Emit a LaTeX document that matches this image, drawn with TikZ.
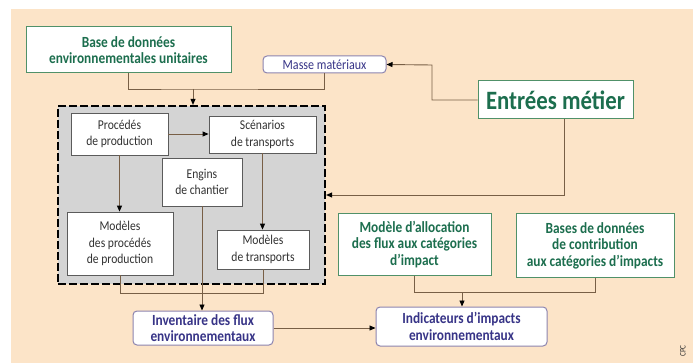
\documentclass[tikz,border=0pt]{standalone}
\usepackage{fontspec}
\setmainfont[FakeStretch=0.86]{Carlito}
\usetikzlibrary{arrows.meta}
\definecolor{peach}{RGB}{252,228,200}
\definecolor{gtext}{RGB}{28,110,78}
\definecolor{gborder}{RGB}{80,145,105}
\definecolor{brownline}{RGB}{120,95,70}
\definecolor{grayfill}{RGB}{212,212,212}
\definecolor{ptext}{RGB}{55,52,135}
\definecolor{pborder}{RGB}{140,132,175}
\definecolor{wtext}{RGB}{50,50,50}
\tikzset{
  gbox/.style={draw=gborder, line width=1pt, fill=white, text=gtext, font=\bfseries\fontsize{15.5}{16.5}\selectfont, align=center, inner sep=0pt},
  pbox/.style={draw=pborder, line width=1pt, rounded corners=4pt, fill=white, text=ptext, align=center, inner sep=0pt},
  wbox/.style={draw=wtext!80, line width=0.8pt, fill=white, text=wtext, font=\fontsize{13.5}{16.7}\selectfont, align=center, inner sep=0pt},
  conn/.style={draw=brownline, line width=0.9pt},
  arr/.style={conn, -{Triangle[length=6pt,width=5pt,color=black]}},
}
\begin{document}
\begin{tikzpicture}[x=1pt,y=-1pt]
\useasboundingbox (0,0) rectangle (698,363);
\fill[peach] (11,9) rectangle (693,363);
% dashed region
\node[draw=black, line width=2.2pt, dash pattern=on 8pt off 3pt, fill=grayfill, minimum width=267pt, minimum height=178pt, inner sep=0pt] (dash) at (191.5,195) {};
% nodes
\node[gbox, minimum width=205pt, minimum height=46pt] (base) at (128.5,50) {Base de données\\environnementales unitaires};
\node[pbox, minimum width=123pt, minimum height=17pt, font=\fontsize{14}{15}\selectfont] (masse) at (324.5,64.5) {Masse matériaux};
\node[gbox, minimum width=155pt, minimum height=38pt, font=\bfseries\fontsize{26.5}{30}\selectfont] (entrees) at (555.5,100) {Entrées métier};
\node[wbox, minimum width=97pt, minimum height=42pt] (proc) at (119.5,134) {Procédés\\de production};
\node[wbox, minimum width=107pt, minimum height=37pt] (scen) at (262.5,134.5) {Scénarios\\de transports};
\node[wbox, minimum width=80pt, minimum height=48pt] (engins) at (202,182) {Engins\\de chantier};
\node[wbox, minimum width=106pt, minimum height=63pt] (modp) at (120,243.5) {Modèles\\des procédés\\de production};
\node[wbox, minimum width=92pt, minimum height=39pt] (modt) at (263,249.5) {Modèles\\de transports};
\node[pbox, minimum width=140pt, minimum height=34pt, font=\bfseries\fontsize{15.5}{16.5}\selectfont] (inv) at (203,328) {Inventaire des flux\\environnementaux};
\node[gbox, minimum width=153pt, minimum height=61pt] (alloc) at (414.5,244.5) {Modèle d’allocation\\des flux aux catégories\\d’impact};
\node[gbox, minimum width=158pt, minimum height=63pt] (bases) at (595,245.5) {Bases de données\\de contribution\\aux catégories d’impacts};
\node[pbox, minimum width=171pt, minimum height=39pt, font=\bfseries\fontsize{15.5}{16.5}\selectfont] (indic) at (461.5,326.5) {Indicateurs d’impacts\\environnementaux};
\node[rotate=90, text=wtext, font=\fontsize{8.5}{9}\selectfont, inner sep=0pt] (cpc) at (683,351) {CPC};
% junctions
\coordinate (j1) at (193,89);
\coordinate (k1) at (432,65);
\coordinate (j2) at (202,293);
\coordinate (j3) at (462,292);
% connectors
\draw[conn] (base.south) |- (j1) -| (masse.south);
\draw[arr] (j1) -- (j1 |- dash.north);
\draw[arr] (entrees.west) -| (k1) -- (masse.east);
\draw[arr] ([xshift=8.5pt]entrees.south) |- (dash.east);
\draw[arr] (proc.east) -- (proc.east -| scen.west);
\draw[arr] (proc.south) -- (proc.south |- modp.north);
\draw[arr] (scen.south) -- (scen.south |- modt.north);
\draw[conn] (modp.south) |- (j2);
\draw[conn] (modt.south) |- (j2);
\draw[arr] (engins.south) -- (engins.south |- inv.north);
\draw[arr] (inv.east) -- (inv.east -| indic.west);
\draw[conn] (alloc.south) |- (j3);
\draw[conn] (bases.south) |- (j3);
\draw[arr] (j3) -- (j3 |- indic.north);
\end{tikzpicture}
\end{document}
